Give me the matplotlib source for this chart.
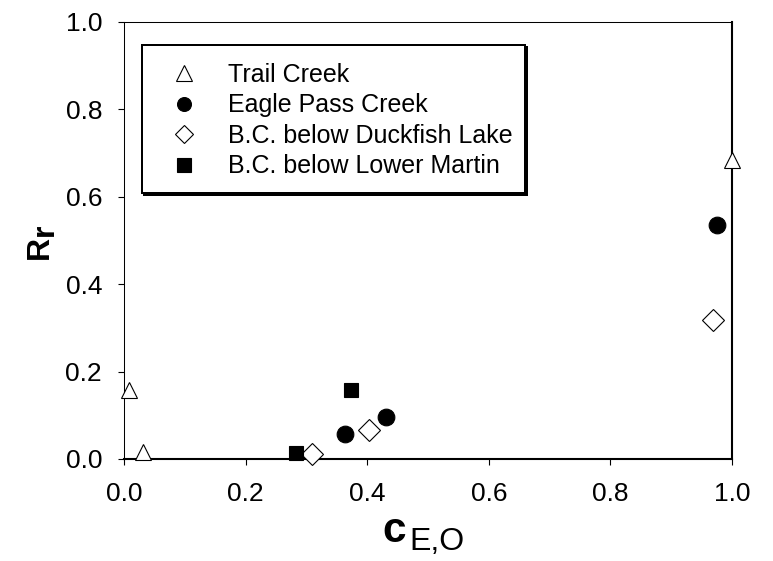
import matplotlib
matplotlib.use("Agg")
import matplotlib.pyplot as plt
import matplotlib.patches as mpatches
from matplotlib.lines import Line2D
import numpy as np

plt.rcParams.update({"font.family": ["Liberation Sans", "DejaVu Sans"],
                     "figure.facecolor": "white"})

W, H = 773, 561

# ratio data per site: (c_E,O , R_r)
trail_x = [0.008, 0.032, 1.000]
trail_y = [0.157, 0.016, 0.684]
eagle_x = [0.364, 0.431, 0.976]
eagle_y = [0.057, 0.097, 0.536]
duck_x = [0.310, 0.403, 0.969]
duck_y = [0.011, 0.066, 0.318]
martin_x = [0.283, 0.373]
martin_y = [0.014, 0.158]

labels = ["Trail Creek", "Eagle Pass Creek", "B.C. below Duckfish Lake",
          "B.C. below Lower Martin"]
ticks = np.arange(0, 1.01, 0.2)


def fx(px):
    return px / W


def fy(py):
    return 1 - py / H


fig = plt.figure(figsize=(W / 100, H / 100), dpi=100)
ax = fig.add_axes([fx(124), fy(459), (732 - 124) / W, (459 - 21.7) / H])

styles = [("^", "white", 11, 11), ("o", "black", 12, 10),
          ("D", "white", 10.7, 8.7), ("s", "black", 10, 10)]
series = [(trail_x, trail_y), (eagle_x, eagle_y), (duck_x, duck_y),
          (martin_x, martin_y)]

handles = []
for (xs, ys), (mk, fc, ms, ms_leg) in zip(series, styles):
    ax.plot(xs, ys, ls="none", marker=mk, ms=ms, mfc=fc, mec="black",
            mew=0.8, clip_on=False, zorder=3)
    handles.append(Line2D([], [], ls="none", marker=mk, ms=ms_leg, mfc=fc,
                          mec="black", mew=0.8))

ax.set_xlim(0, 1)
ax.set_ylim(0, 1)
ax.set_xticks(ticks)
ax.set_yticks(ticks)
ax.set_xticklabels([f"{t:.1f}" for t in ticks])
ax.set_yticklabels([f"{t:.1f}" for t in ticks])
ax.tick_params(axis="both", direction="out", length=4.3, width=0.8,
               labelsize=19)
ax.tick_params(axis="x", pad=12)
ax.tick_params(axis="y", pad=11.5)
for side, lw in [("left", 0.75), ("top", 0.75), ("bottom", 1.5), ("right", 1.5)]:
    ax.spines[side].set_linewidth(lw)
    ax.spines[side].set_color("black")

# axis labels built from pieces so the subscripts sit at full size
fig.text(fx(48), fy(259), "R", rotation=90, rotation_mode="anchor",
         ha="left", va="baseline", fontsize=23, fontweight="bold")
fig.text(fx(53), fy(236), "r", rotation=90, rotation_mode="anchor",
         ha="left", va="baseline", fontsize=23, fontweight="bold")
fig.text(fx(382), fy(542), "c", ha="left", va="baseline",
         fontsize=30.5, fontweight="bold")
fig.text(fx(409.5), fy(550), "E,O", ha="left", va="baseline", fontsize=23)

# legend box with a hard drop shadow
shadow = mpatches.Rectangle((fx(143.5), fy(194.5)), (525 - 142) / W, (193 - 45) / H,
                            transform=fig.transFigure, fc="black", ec="black",
                            lw=1.44, zorder=1.9)
frame = mpatches.Rectangle((fx(142), fy(193)), (525 - 142) / W, (193 - 45) / H,
                           transform=fig.transFigure, fc="white", ec="black",
                           lw=1.44, zorder=2)
fig.patches.extend([shadow, frame])

fig.legend(handles, labels, loc="upper left",
           bbox_to_anchor=(fx(152), fy(62.8)), bbox_transform=fig.transFigure,
           frameon=False, borderpad=0, borderaxespad=0, numpoints=1,
           handlelength=2.56, handletextpad=0.48, labelspacing=0.26,
           prop={"size": 18})

fig.savefig("out.png", dpi=100, facecolor="white")
